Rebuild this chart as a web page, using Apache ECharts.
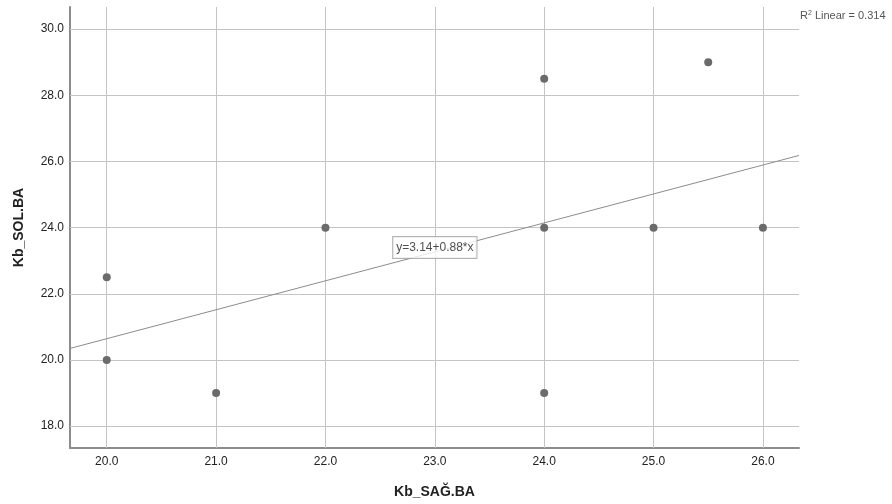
<!DOCTYPE html>
<html>
<head>
<meta charset="utf-8">
<script src="https://cdn.jsdelivr.net/npm/echarts@6/dist/echarts.min.js"></script>
<style>
  html, body { margin: 0; padding: 0; background: #fff; }
  #main { width: 892px; height: 504px; }
</style>
</head>
<body>
<div id="main"></div>
<script>
// points
const sagValues = [20, 20, 21, 22, 24, 24, 24, 25, 25.5, 26];
const solValues = [22.5, 20, 19, 24, 28.5, 24, 19, 24, 29, 24];

const xTicks = [20, 21, 22, 23, 24, 25, 26];
const yTicks = [18, 20, 22, 24, 26, 28, 30];

// what the chart prints
const fitText = "y=3.14+0.88*x";
const rSquaredText = "0.314";

const xMin = 19.664, xMax = 26.33;
const yMin = 17.34, yMax = 30.67;

const points = sagValues.map((x, i) => [x, solValues[i]]);

// least squares line through the points
const n = sagValues.length;
const mx = sagValues.reduce((a, b) => a + b, 0) / n;
const my = solValues.reduce((a, b) => a + b, 0) / n;
let sxy = 0, sxx = 0;
sagValues.forEach((x, i) => {
  sxy += (x - mx) * (solValues[i] - my);
  sxx += (x - mx) * (x - mx);
});
const slope = sxy / sxx;
const intercept = my - slope * mx;
const fitLine = [xMin, xMax].map(x => [x, intercept + slope * x]);

const chart = echarts.init(document.getElementById("main"));
const font = "Liberation Sans, Arial, sans-serif";

const gridLines = xTicks.map(v => ({ xAxis: v })).concat(yTicks.map(v => ({ yAxis: v })));

const option = {
  animation: false,
  grid: { left: 70, right: 93, top: 7, bottom: 55 },
  xAxis: {
    type: "value",
    min: xMin,
    max: xMax,
    name: "Kb_SAĞ.BA",
    nameLocation: "middle",
    nameGap: 37,
    nameTextStyle: { fontFamily: font, fontSize: 14, fontWeight: "bold", color: "#222" },
    axisLine: { show: true, lineStyle: { color: "#8c8c8c", width: 2 } },
    axisTick: { show: false },
    splitLine: { show: false },
    axisLabel: {
      customValues: xTicks,
      formatter: v => v.toFixed(1),
      fontFamily: font, fontSize: 12, color: "#222", margin: 8
    }
  },
  yAxis: {
    type: "value",
    min: yMin,
    max: yMax,
    name: "Kb_SOL.BA",
    nameLocation: "middle",
    nameGap: 44,
    nameTextStyle: { fontFamily: font, fontSize: 14, fontWeight: "bold", color: "#222" },
    axisLine: { show: true, lineStyle: { color: "#8c8c8c", width: 2 } },
    axisTick: { show: false },
    splitLine: { show: false },
    axisLabel: {
      customValues: yTicks,
      formatter: v => v.toFixed(1),
      fontFamily: font, fontSize: 12, color: "#222", margin: 6
    }
  },
  series: [
    {
      type: "line",
      data: [],
      silent: true,
      z: 1,
      markLine: {
        silent: true,
        z: 1,
        symbol: "none",
        label: { show: false },
        lineStyle: { color: "#c4c4c4", width: 1, type: "solid" },
        data: gridLines
      }
    },
    {
      type: "line",
      data: fitLine,
      showSymbol: false,
      silent: true,
      z: 3,
      lineStyle: { color: "#8c8c8c", width: 1 }
    },
    {
      type: "scatter",
      data: points,
      symbolSize: 8,
      z: 5,
      itemStyle: { color: "#6b6b6b", opacity: 1 }
    },
    {
      type: "scatter",
      data: [[23.0, 23.4]],
      symbolSize: 0,
      silent: true,
      z: 10,
      label: {
        show: true,
        position: "inside",
        formatter: fitText,
        fontFamily: font,
        fontSize: 12,
        color: "#222",
        backgroundColor: "#fff",
        borderColor: "#a0a0a0",
        borderWidth: 1,
        padding: [5, 3, 4, 3]
      }
    }
  ],
  graphic: [
    {
      type: "text",
      left: 800,
      top: 10,
      style: {
        text: "{r|R}{sup|2}{n| Linear = " + rSquaredText + "}",
        rich: {
          r: { fontFamily: font, fontSize: 11, fill: "#555" },
          sup: { fontFamily: font, fontSize: 7, fill: "#555", verticalAlign: "top", padding: [0, 0, 5, 0] },
          n: { fontFamily: font, fontSize: 11, fill: "#555" }
        }
      }
    }
  ]
};

chart.setOption(option);
</script>
</body>
</html>
